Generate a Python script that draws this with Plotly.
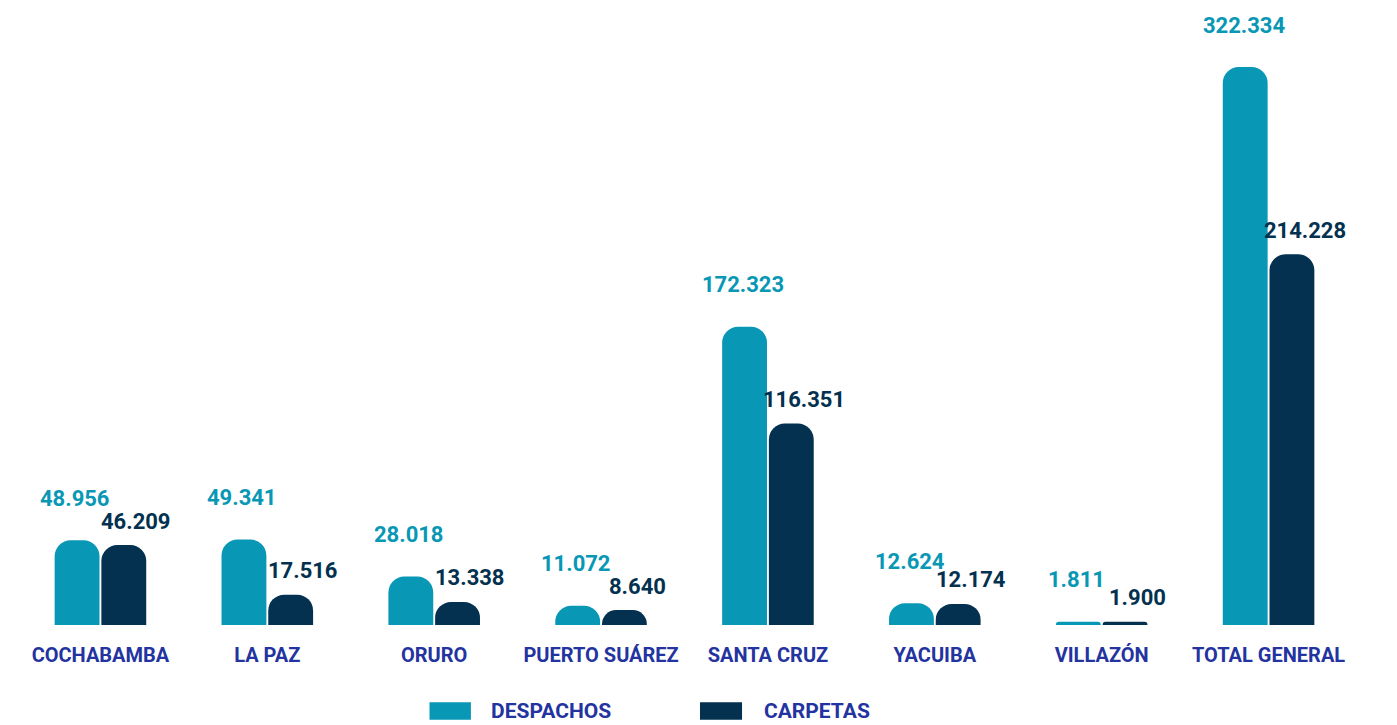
import plotly.graph_objects as go

categories = ["COCHABAMBA", "LA PAZ", "ORURO", "PUERTO SUÁREZ", "SANTA CRUZ",
              "YACUIBA", "VILLAZÓN", "TOTAL GENERAL"]
despachos = [48956, 49341, 28018, 11072, 172323, 12624, 1811, 322334]
carpetas = [46209, 17516, 13338, 8640, 116351, 12174, 1900, 214228]
series_names = ["DESPACHOS", "CARPETAS"]

TEAL = "#0897b5"
NAVY = "#03314f"
BLUE = "#2333a0"
FONT = "Roboto"


def fmt(v):
    return f"{v:,}".replace(",", ".")


fig = go.Figure()
fig.add_trace(go.Bar(x=categories, y=despachos, name=series_names[0],
                     marker=dict(color=TEAL, line=dict(width=0)),
                     showlegend=False, hoverinfo="x+y"))
fig.add_trace(go.Bar(x=categories, y=carpetas, name=series_names[1],
                     marker=dict(color=NAVY, line=dict(width=0)),
                     showlegend=False, hoverinfo="x+y"))

annotations = []
for c, v in zip(categories, despachos):
    annotations.append(dict(x=c, y=v, xref="x", yref="y", text=fmt(v),
                            showarrow=False, xshift=-25, yshift=42,
                            font=dict(family=FONT, size=22, color=TEAL, weight="bold")))
for c, v in zip(categories, carpetas):
    annotations.append(dict(x=c, y=v, xref="x", yref="y", text=fmt(v),
                            showarrow=False, xshift=36, yshift=24,
                            font=dict(family=FONT, size=22, color=NAVY, weight="bold")))

# custom legend
shapes = [
    dict(type="rect", xref="paper", yref="paper", x0=0.309, x1=0.340,
         y0=-0.132, y1=-0.162, fillcolor=TEAL, line=dict(width=0)),
    dict(type="rect", xref="paper", yref="paper", x0=0.5116, x1=0.5431,
         y0=-0.132, y1=-0.162, fillcolor=NAVY, line=dict(width=0)),
]
annotations.append(dict(xref="paper", yref="paper", x=0.3536, y=-0.147,
                        xanchor="left", yanchor="middle", showarrow=False,
                        text=series_names[0],
                        font=dict(family=FONT, size=21, color=BLUE, weight="bold")))
annotations.append(dict(xref="paper", yref="paper", x=0.558, y=-0.147,
                        xanchor="left", yanchor="middle", showarrow=False,
                        text=series_names[1],
                        font=dict(family=FONT, size=21, color=BLUE, weight="bold")))

fig.update_layout(
    width=1389, height=717,
    margin=dict(l=9, r=45, t=32, b=100),
    paper_bgcolor="white", plot_bgcolor="white",
    barmode="group", bargap=0.44, bargroupgap=0.04,
    barcornerradius=16,
    annotations=annotations, shapes=shapes,
    xaxis=dict(showgrid=False, showline=False, zeroline=False,
               tickfont=dict(family=FONT, size=20, color=BLUE, weight="bold"),
               ticklabelstandoff=16),
    yaxis=dict(visible=False, range=[0, 338000]),
    showlegend=False,
)

fig.write_html("out.html")
